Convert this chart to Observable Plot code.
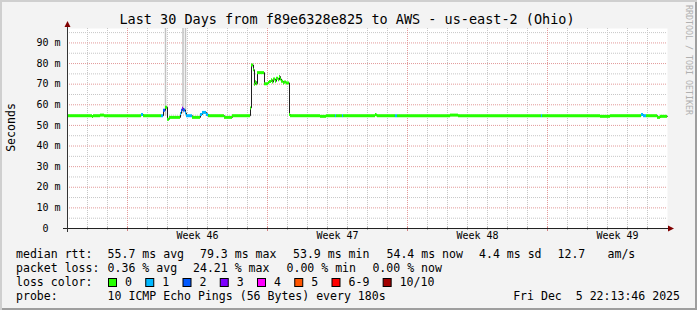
<!DOCTYPE html>
<html><head><meta charset="utf-8">
<script src="https://cdn.jsdelivr.net/npm/d3@7"></script>
<script src="https://cdn.jsdelivr.net/npm/@observablehq/plot@0.6"></script>
<style>
html,body{margin:0;padding:0;background:#f3f3f3;}
#wrap{position:relative;width:697px;height:310px;background:#f3f3f3;overflow:hidden;}
#wrap svg{position:absolute;left:0;top:0;}
#edge{position:absolute;left:0;top:0;width:697px;height:310px;box-shadow:inset 2px 2px 0 #cfcfcf, inset -2px -2px 0 #9e9e9e;pointer-events:none;}
</style></head>
<body><div id="wrap"></div>
<script>
const mono = '"DejaVu Sans Mono", monospace';
const titleText = "Last 30 Days from f89e6328e825 to AWS - us-east-2 (Ohio)";
const yAxisTitle = "Seconds";
const watermark = "RRDTOOL / TOBI OETIKER";
const xDomain = ["2025-11-06T00:00", "2025-12-06T00:00"];
const weekLabels = ["Week 46", "Week 47", "Week 48", "Week 49"];
const weekMid = ["2025-11-12T12:00", "2025-11-19T12:00", "2025-11-26T12:00", "2025-12-03T12:00"];
const yTicks = [0, 10, 20, 30, 40, 50, 60, 70, 80, 90];
const yTickLabels = ["0\u00a0\u00a0", "10 m", "20 m", "30 m", "40 m", "50 m", "60 m", "70 m", "80 m", "90 m"];

// median RTT (ms), piecewise steps: start time, value, loss bucket index
const stepTimes = [
  "2025-11-06T00:00","2025-11-07T06:00","2025-11-07T07:12","2025-11-07T15:36","2025-11-07T20:24",
  "2025-11-09T16:48","2025-11-09T19:12","2025-11-10T16:48","2025-11-10T19:12","2025-11-10T21:36",
  "2025-11-11T00:00","2025-11-11T02:24","2025-11-11T15:36","2025-11-11T16:48","2025-11-11T18:00",
  "2025-11-11T19:12","2025-11-11T21:36","2025-11-11T22:48","2025-11-12T06:00","2025-11-12T15:36",
  "2025-11-12T18:00","2025-11-12T22:48","2025-11-13T01:12","2025-11-13T20:24","2025-11-14T06:00",
  "2025-11-15T03:36","2025-11-15T04:48","2025-11-15T07:12","2025-11-15T08:24","2025-11-15T09:36",
  "2025-11-15T10:48","2025-11-15T12:00","2025-11-15T20:24","2025-11-16T01:12","2025-11-16T02:24",
  "2025-11-16T04:48","2025-11-16T06:00","2025-11-16T07:12","2025-11-16T09:36","2025-11-16T10:48",
  "2025-11-16T13:12","2025-11-16T14:24","2025-11-16T15:36","2025-11-16T16:48","2025-11-16T19:12",
  "2025-11-16T20:24","2025-11-16T22:48","2025-11-17T02:24","2025-11-17T03:36","2025-11-18T15:36",
  "2025-11-18T22:48","2025-11-19T09:36","2025-11-19T10:48","2025-11-19T18:00","2025-11-19T19:12",
  "2025-11-21T09:36","2025-11-21T10:48","2025-11-21T12:00","2025-11-22T09:36","2025-11-22T12:00",
  "2025-11-25T03:36","2025-11-25T13:12","2025-11-29T16:48","2025-11-29T18:00","2025-12-02T15:36",
  "2025-12-03T03:36","2025-12-04T16:48","2025-12-04T19:12","2025-12-04T22:48","2025-12-05T12:00",
  "2025-12-05T15:36"
];
const medianMs = [
  54.7, 54.3, 54.7, 55.0, 54.7,
  55.3, 54.7, 54.7, 57.3, 58.8,
  53.0, 53.9, 55.8, 57.3, 58.3,
  57.5, 56.0, 54.7, 53.9, 55.3,
  56.3, 55.3, 54.7, 53.9, 54.7,
  58.5, 79.3, 77.0, 70.0, 71.2,
  70.2, 75.6, 70.2, 70.8, 71.3,
  72.1, 71.0, 72.5, 71.4, 72.9,
  72.1, 73.7, 72.5, 71.4, 70.6,
  71.0, 70.6, 55.3, 54.7, 54.4,
  54.7, 54.7, 54.7, 54.7, 54.7,
  55.3, 55.0, 54.7, 54.7, 54.7,
  55.0, 54.7, 54.7, 54.7, 54.4,
  54.7, 55.3, 54.7, 54.7, 53.9,
  54.4
];
const lossIdx = [
  0,0,0,0,0,
  1,0,1,2,0,
  0,0,1,2,3,
  2,1,1,0,1,
  1,1,0,0,0,
  0,0,0,0,0,
  0,0,0,0,0,
  0,0,0,0,0,
  0,0,0,0,0,
  0,0,0,0,0,
  0,1,0,1,0,
  0,0,0,1,0,
  0,0,1,0,0,
  0,1,1,0,0,
  0
];
// smoke (ping spread) spikes
const smokeTimes = ["2025-11-10T21:36", "2025-11-11T18:36", "2025-11-11T21:36"];
const smokeLo = [54.5, 55.6, 55.6];
const smokeHi = [130, 130, 130];

const lossLabels = ["0", "1", "2", "3", "4", "5", "6-9", "10/10"];
const lossColors = ["#26ff00", "#00b8ff", "#0059ff", "#7e00ff", "#ff00ff", "#ff5500", "#ff0000", "#a10000"];

const rttItems = ["median rtt:", "55.7 ms avg", "79.3 ms max", "53.9 ms min", "54.4 ms now", "4.4 ms sd", "12.7", "am/s"];
const lossItems = ["packet loss:", "0.36 % avg", "24.21 % max", "0.00 % min", "0.00 % now"];
const lossColorLabel = "loss color:";
const probeLabel = "probe:";
const probeText = "10 ICMP Echo Pings (56 Bytes) every 180s";
const dateText = "Fri Dec\u00a0 5 22:13:46 2025";

// ---------- build ----------
const parse = s => new Date(s + ":00Z");
const [x0, x1] = xDomain.map(parse);
const steps = stepTimes.map((s, i) => ({t: parse(s), v: medianMs[i], loss: lossIdx[i]}));
steps.forEach((d, i) => d.t2 = i + 1 < steps.length ? steps[i + 1].t : x1);
const linePts = steps.map(d => ({t: d.t, v: d.v})).concat([{t: x1, v: steps[steps.length - 1].v}]);
const smoke = smokeTimes.map((s, i) => ({t: parse(s), lo: smokeLo[i], hi: smokeHi[i]}));
const days = d3.utcDay.range(x0, x1).filter(d => +d !== +x0);
const sundays = days.filter(d => d.getUTCDay() === 0);
const minorDays = days.filter(d => d.getUTCDay() !== 0);
const yMinor = d3.range(5, 97, 10);
const yMajor = d3.range(10, 97, 10);
const gridC = "#c6c6c6", mgridC = "#e29a9a";

const plot = Plot.plot({
  width: 697, height: 310,
  marginLeft: 67, marginRight: 30, marginTop: 28, marginBottom: 82,
  x: {type: "utc", domain: [x0, x1], axis: null},
  y: {domain: [0, 97], axis: null, clamp: true},
  color: {type: "identity"},
  style: {background: "transparent", fontFamily: mono, fontSize: "10px", color: "black", overflow: "visible"},
  marks: [
    Plot.frame({fill: "white", stroke: "none"}),
    Plot.ruleY(yMinor, {stroke: gridC, strokeDasharray: "1,1"}),
    Plot.ruleX(minorDays, {stroke: gridC, strokeDasharray: "1,1"}),
    Plot.ruleY(yMajor, {stroke: mgridC, strokeDasharray: "1,1"}),
    Plot.ruleX(sundays, {stroke: mgridC, strokeDasharray: "1,1"}),
    Plot.ruleX(smoke, {x: "t", y1: "lo", y2: "hi", stroke: "#c2c2c2", strokeWidth: 1.5}),
    Plot.line(linePts, {x: "t", y: "v", curve: "step-after", stroke: "#202020", strokeWidth: 1}),
    Plot.ruleY(steps, {x1: "t", x2: "t2", y: "v", stroke: d => lossColors[d.loss], strokeWidth: 3}),
    Plot.ruleX(minorDays, {stroke: "#b0b0b0", insetTop: 199, insetBottom: -2}),
    Plot.ruleX(sundays, {stroke: "#d08080", insetTop: 199, insetBottom: -3}),
    Plot.ruleY([0], {stroke: "#222", insetLeft: -4, insetRight: -3}),
    Plot.ruleX([x0], {stroke: "#333", insetTop: -2, insetBottom: -4}),
    Plot.text(yTicks, {y: d => d, text: (d, i) => yTickLabels[i], frameAnchor: "left", textAnchor: "end", dx: -7, fill: "#000"}),
    Plot.text(weekMid.map(parse), {x: d => d, text: (d, i) => weekLabels[i], frameAnchor: "bottom", dy: 10, fill: "#000"})
  ]
});
const wrap = document.getElementById("wrap");
wrap.appendChild(plot);

// arrows placed with the plot's scales
const sx = plot.scale("x"), sy = plot.scale("y");
const ax = sx.apply(x1), ay = sy.apply(0) + 0.5;
const tx = sx.apply(x0) + 0.5, ty = sy.apply(97);
const ov = d3.select(wrap).append("svg").attr("width", 697).attr("height", 310)
  .style("font-family", mono);
ov.append("path").attr("d", `M${ax + 1},${ay - 3}L${ax + 7},${ay}L${ax + 1},${ay + 3}Z`).attr("fill", "#800000");
ov.append("path").attr("d", `M${tx - 3},${ty - 1}L${tx},${ty - 7}L${tx + 3},${ty - 1}Z`).attr("fill", "#800000");

ov.append("text").attr("x", 347).attr("y", 23.5).attr("text-anchor", "middle").attr("font-size", 13.5).text(titleText);
ov.append("text").attr("transform", "translate(15,127.5) rotate(-90)").attr("text-anchor", "middle").attr("font-size", 11.55).text(yAxisTitle);
ov.append("text").attr("transform", "translate(685.5,5) rotate(90)").attr("font-size", 8.3).attr("fill", "#b0b0b0").text(watermark);

const fs = 11.55;
const rttX = [16, 107.6, 200, 293, 386.5, 479, 557.5, 607.5];
rttItems.forEach((s, i) => ov.append("text").attr("x", rttX[i]).attr("y", 258).attr("font-size", fs).text(s));
const lossX = [16, 107.6, 193, 286.5, 372.4];
lossItems.forEach((s, i) => ov.append("text").attr("x", lossX[i]).attr("y", 272).attr("font-size", fs).text(s));
ov.append("text").attr("x", 16).attr("y", 286).attr("font-size", fs).text(lossColorLabel);
let bx = 108;
lossLabels.forEach((s, i) => {
  ov.append("rect").attr("x", bx + 0.5).attr("y", 278.5).attr("width", 8).attr("height", 8)
    .attr("fill", lossColors[i]).attr("stroke", "#000").attr("stroke-width", 1);
  ov.append("text").attr("x", bx + 17).attr("y", 286).attr("font-size", fs).text(s);
  bx += 17 + 6.95 * s.length + 13.3;
});
ov.append("text").attr("x", 16).attr("y", 300).attr("font-size", fs).text(probeLabel);
ov.append("text").attr("x", 107.6).attr("y", 300).attr("font-size", fs).text(probeText);
ov.append("text").attr("x", 680).attr("y", 300).attr("text-anchor", "end").attr("font-size", fs).text(dateText);

const edge = document.createElement("div"); edge.id = "edge"; wrap.appendChild(edge);
</script>
</body></html>
